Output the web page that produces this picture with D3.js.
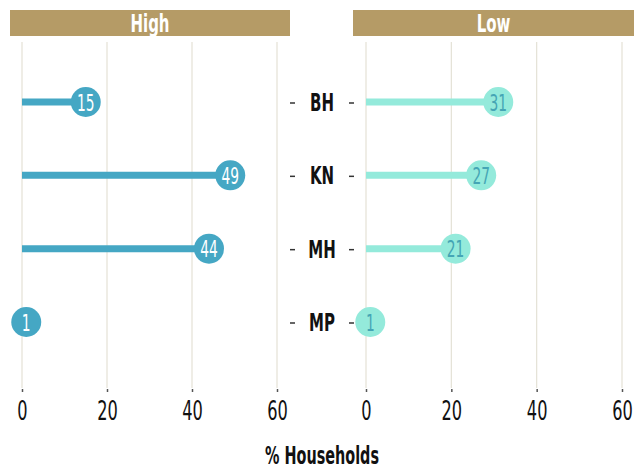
<!DOCTYPE html>
<html>
<head>
<meta charset="utf-8">
<script src="https://cdn.jsdelivr.net/npm/d3@7"></script>
<style>
  body { margin: 0; background: #fff; }
  text { font-family: "DejaVu Sans", sans-serif; }
</style>
</head>
<body>
<div id="chart"></div>
<script>
const categories = ["BH", "KN", "MH", "MP"];
const highValues = [15, 49, 44, 1];
const lowValues = [31, 27, 21, 1];
const panelTitles = ["High", "Low"];
const tickValues = [0, 20, 40, 60];
const axisTitle = "% Households";

const W = 634, H = 470;
const SX = 0.6; // squeeze text to look like a condensed face

const svg = d3.select("#chart").append("svg")
  .attr("width", W).attr("height", H);

// text drawn at (x, y) and squeezed horizontally
function label(parent, x, y, str, size, fill, weight) {
  return parent.append("text")
    .attr("transform", `translate(${x},${y}) scale(${SX},1)`)
    .attr("text-anchor", "middle")
    .attr("font-size", size)
    .attr("font-weight", weight || "normal")
    .attr("fill", fill)
    .text(str);
}

const y = d3.scalePoint().domain(categories).range([102, 322]);

const panels = [
  {title: panelTitles[0], values: highValues, x0: 22, x1: 277, hx: [10, 290],
   line: "#45a7c4", dot: "#45a7c4", label: "#ffffff"},
  {title: panelTitles[1], values: lowValues, x0: 366, x1: 622, hx: [353, 634],
   line: "#94eadb", dot: "#94eadb", label: "#45a5b5"}
];

panels.forEach(p => {
  const x = d3.scaleLinear().domain([0, 60]).range([p.x0, p.x1]);
  const g = svg.append("g");

  // header strip
  g.append("rect")
    .attr("x", p.hx[0]).attr("y", 10)
    .attr("width", p.hx[1] - p.hx[0]).attr("height", 26)
    .attr("fill", "#b59b66");
  label(g, (p.hx[0] + p.hx[1]) / 2, 32, p.title, 25, "#fff", "bold");

  // gridlines
  g.selectAll(".grid").data(tickValues).join("line")
    .attr("x1", d => x(d)).attr("x2", d => x(d))
    .attr("y1", 42).attr("y2", 388)
    .attr("stroke", "#e4e1d6").attr("stroke-width", 1.2);

  // axis
  const axis = g.append("g")
    .attr("transform", "translate(0,389)")
    .call(d3.axisBottom(x).tickValues(tickValues).tickSize(3).tickPadding(9));
  axis.select(".domain").remove();
  axis.selectAll(".tick line").attr("stroke", "#555").attr("stroke-width", 1.5);
  axis.selectAll(".tick text")
    .attr("font-size", 27).attr("fill", "#111")
    .attr("transform", `scale(${SX},1)`)
    .style("font-family", "'DejaVu Sans', sans-serif");

  const rows = categories.map((c, i) => ({c, v: p.values[i]}));

  g.selectAll(".stem").data(rows).join("line")
    .attr("x1", x(0)).attr("x2", d => x(d.v))
    .attr("y1", d => y(d.c)).attr("y2", d => y(d.c))
    .attr("stroke", p.line).attr("stroke-width", 7);

  g.selectAll(".dot").data(rows).join("circle")
    .attr("cx", d => x(d.v)).attr("cy", d => y(d.c))
    .attr("r", 15).attr("fill", p.dot);

  rows.forEach(d => label(g, x(d.v), y(d.c) + 8.5, d.v, 23, p.label));
});

// category labels with little dashes
const lab = svg.append("g");
categories.forEach(c => label(lab, 322, y(c) + 9, c, 25, "#111", "bold"));
[[290, 295], [349, 354]].forEach(([a, b]) => {
  lab.selectAll(null).data(categories).join("line")
    .attr("x1", a).attr("x2", b)
    .attr("y1", d => y(d) + 1).attr("y2", d => y(d) + 1)
    .attr("stroke", "#333").attr("stroke-width", 1.5);
});

label(svg, 322, 464, axisTitle, 24, "#111", "bold");
</script>
</body>
</html>
